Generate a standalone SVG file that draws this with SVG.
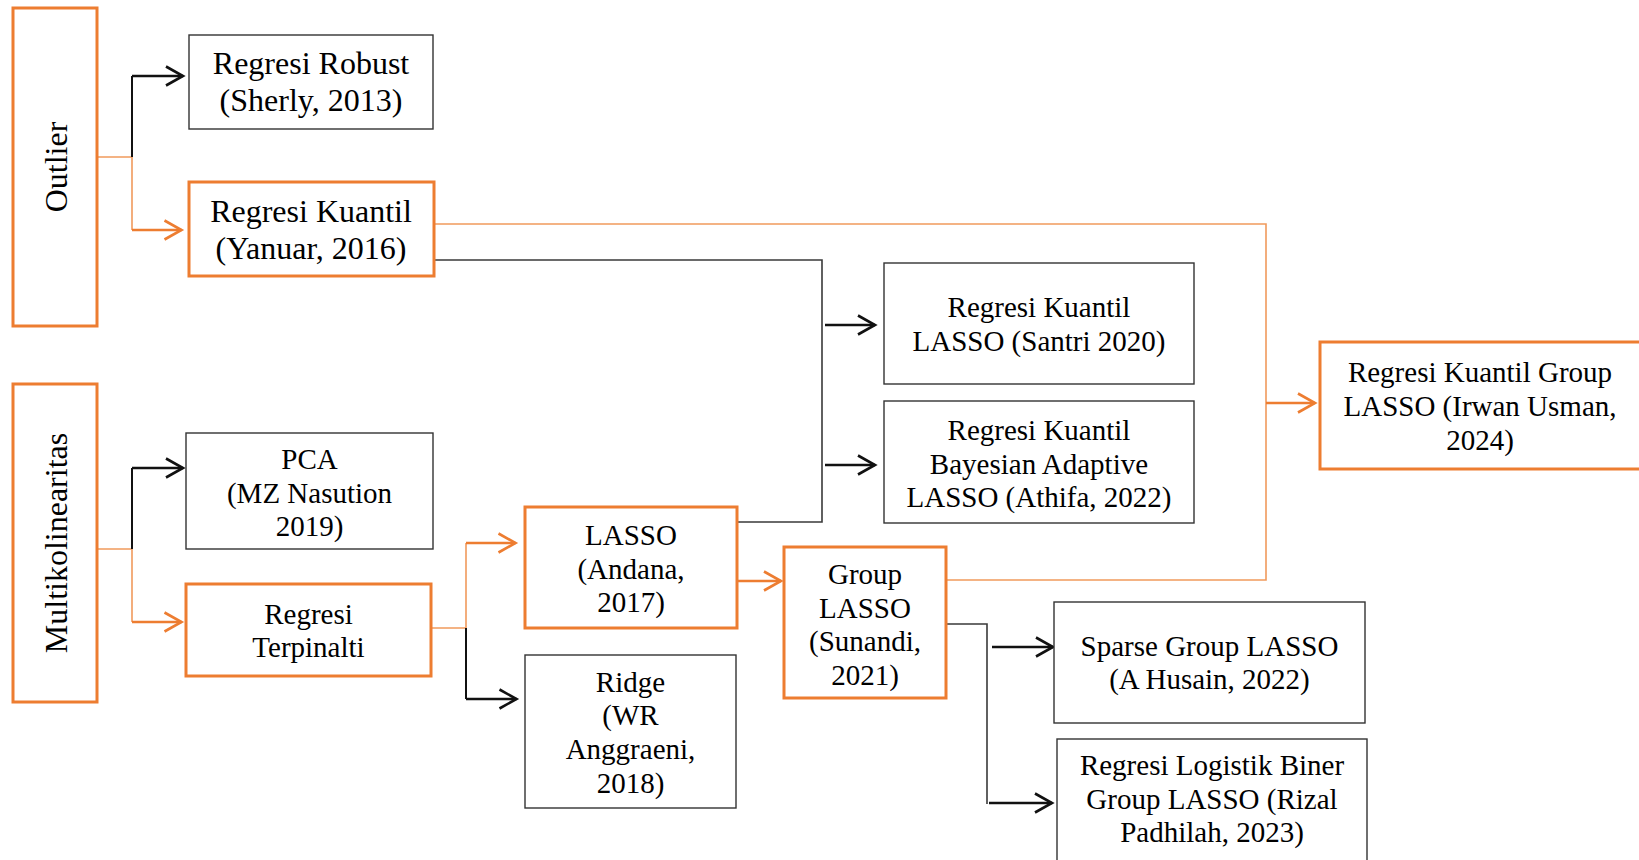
<svg xmlns="http://www.w3.org/2000/svg" width="1639" height="860" viewBox="0 0 1639 860">
<style>
.ob{fill:#fff;stroke:#ED7D31;stroke-width:3}
.bb{fill:#fff;stroke:#333;stroke-width:1.4}
.t{font-family:"Liberation Serif","Times New Roman",serif;font-size:29px;fill:#000;text-anchor:middle}
.tl{font-size:32px}
.ol{fill:none;stroke:#F19A5C;stroke-width:1.6}
.bl{fill:none;stroke:#3a3a3a;stroke-width:1.6}
.bv{fill:none;stroke:#111;stroke-width:2}
.oa{fill:none;stroke:#ED7D31;stroke-width:2.6;marker-end:url(#mo)}
.ba{fill:none;stroke:#111;stroke-width:2.6;marker-end:url(#mb)}
</style>
<defs>
<marker id="mo" markerUnits="userSpaceOnUse" markerWidth="26" markerHeight="26" refX="20" refY="12" orient="auto"><path d="M3,2.5 L20,12 L3,21.5" fill="none" stroke="#ED7D31" stroke-width="2.6"/></marker>
<marker id="mb" markerUnits="userSpaceOnUse" markerWidth="26" markerHeight="26" refX="20" refY="12" orient="auto"><path d="M3,2.5 L20,12 L3,21.5" fill="none" stroke="#111" stroke-width="2.6"/></marker>
</defs>
<rect width="1639" height="860" fill="#fff"/>
<g id="connectors">
<path class="ol" d="M97,157 H132 V230"/>
<path class="bv" d="M132,157 V76"/>
<path class="ba" d="M132,76 H183"/>
<path class="oa" d="M132,230 H181.5"/>
<path class="ol" d="M97.5,549 H132 V622"/>
<path class="bv" d="M132,549 V468"/>
<path class="ba" d="M132,468 H183"/>
<path class="oa" d="M132,622 H181.5"/>
<path class="ol" d="M431,628 H466 V543"/>
<path class="oa" d="M466,543 H515.5"/>
<path class="bv" d="M466,628 V699"/>
<path class="ba" d="M466,699 H516.5"/>
<path class="bl" d="M434,260 H822 V522 H737"/>
<path class="ba" d="M825,325 H875"/>
<path class="ba" d="M825,465 H875"/>
<path class="ol" d="M434,224 H1266 V580 H946"/>
<path class="oa" d="M1266,403 H1315"/>
<path class="oa" d="M737,581 H781"/>
<path class="bl" d="M946,624 H987 V804"/>
<path class="ba" d="M992,647 H1053"/>
<path class="ba" d="M989,803 H1052"/>
</g>
<g id="outlier">
<rect class="ob" x="13" y="8" width="84" height="318"/>
<text class="t tl" transform="translate(67,167) rotate(-90)">Outlier</text>
</g>
<g id="multikolinearitas">
<rect class="ob" x="13" y="384" width="84" height="318"/>
<text class="t tl" transform="translate(67,543) rotate(-90)">Multikolinearitas</text>
</g>
<g id="robust">
<rect class="bb" x="189" y="35" width="244" height="94"/>
<text class="t tl" x="311" y="74">Regresi Robust</text>
<text class="t tl" x="311" y="111">(Sherly, 2013)</text>
</g>
<g id="kuantil">
<rect class="ob" x="189" y="182" width="245" height="94"/>
<text class="t tl" x="311" y="221.5">Regresi Kuantil</text>
<text class="t tl" x="311" y="258.5">(Yanuar, 2016)</text>
</g>
<g id="pca">
<rect class="bb" x="186" y="433" width="247" height="116"/>
<text class="t" x="309.5" y="469">PCA</text>
<text class="t" x="309.5" y="503">(MZ Nasution</text>
<text class="t" x="309.5" y="536">2019)</text>
</g>
<g id="terpinalti">
<rect class="ob" x="186" y="584" width="245" height="92"/>
<text class="t" x="308.5" y="623.5">Regresi</text>
<text class="t" x="308.5" y="657">Terpinalti</text>
</g>
<g id="lasso">
<rect class="ob" x="525" y="507" width="212" height="121"/>
<text class="t" x="631" y="544.5">LASSO</text>
<text class="t" x="631" y="578.5">(Andana,</text>
<text class="t" x="631" y="612">2017)</text>
</g>
<g id="ridge">
<rect class="bb" x="525" y="655" width="211" height="153"/>
<text class="t" x="630.5" y="691.5">Ridge</text>
<text class="t" x="630.5" y="725">(WR</text>
<text class="t" x="630.5" y="759">Anggraeni,</text>
<text class="t" x="630.5" y="793">2018)</text>
</g>
<g id="grouplasso">
<rect class="ob" x="784" y="547" width="162" height="151"/>
<text class="t" x="865" y="584">Group</text>
<text class="t" x="865" y="617.5">LASSO</text>
<text class="t" x="865" y="651">(Sunandi,</text>
<text class="t" x="865" y="684.5">2021)</text>
</g>
<g id="santri">
<rect class="bb" x="884" y="263" width="310" height="121"/>
<text class="t" x="1039" y="317">Regresi Kuantil</text>
<text class="t" x="1039" y="350.5">LASSO (Santri 2020)</text>
</g>
<g id="athifa">
<rect class="bb" x="884" y="401" width="310" height="122"/>
<text class="t" x="1039" y="440">Regresi Kuantil</text>
<text class="t" x="1039" y="474">Bayesian Adaptive</text>
<text class="t" x="1039" y="507">LASSO (Athifa, 2022)</text>
</g>
<g id="irwan">
<rect class="ob" x="1320" y="342" width="322" height="127"/>
<text class="t" x="1480" y="382">Regresi Kuantil Group</text>
<text class="t" x="1480" y="416">LASSO (Irwan Usman,</text>
<text class="t" x="1480" y="449.5">2024)</text>
</g>
<g id="sparse">
<rect class="bb" x="1054" y="602" width="311" height="121"/>
<text class="t" x="1209.5" y="655.5">Sparse Group LASSO</text>
<text class="t" x="1209.5" y="689">(A Husain, 2022)</text>
</g>
<g id="logistik">
<rect class="bb" x="1057" y="739" width="310" height="130"/>
<text class="t" x="1212" y="775">Regresi Logistik Biner</text>
<text class="t" x="1212" y="809">Group LASSO (Rizal</text>
<text class="t" x="1212" y="842">Padhilah, 2023)</text>
</g>
</svg>
